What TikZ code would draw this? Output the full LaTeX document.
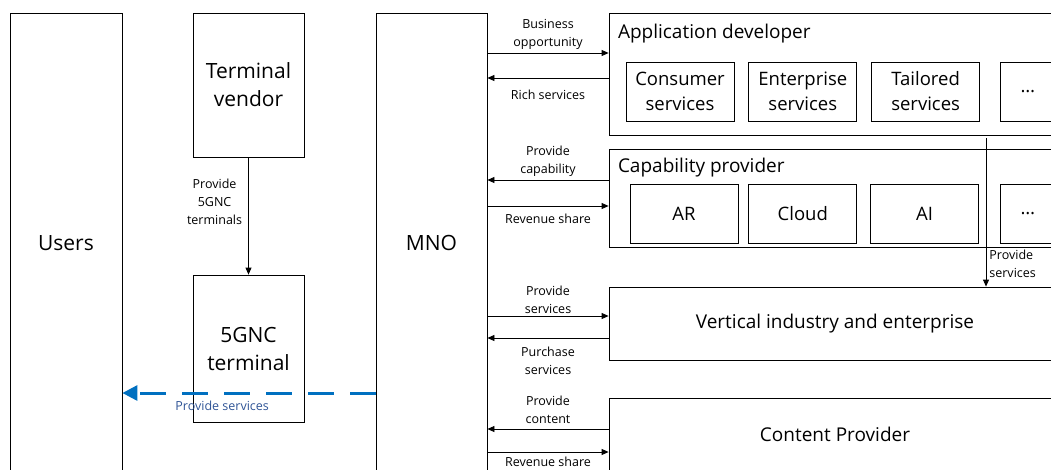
\documentclass[tikz,border=0pt]{standalone}
\usepackage{fontspec}
\setmainfont{Open Sans}
\usepackage{tikz}
\usetikzlibrary{calc}
\usetikzlibrary{positioning}
\usetikzlibrary{arrows.meta}
\definecolor{linkblue}{RGB}{0,112,192}
\definecolor{textblue}{RGB}{47,84,150}

\begin{document}
\begin{tikzpicture}[x=1pt, y=-1pt, >={Triangle[length=7pt,width=6pt]}]
\tikzstyle{block}=[draw, line width=0.8pt, inner sep=0pt, align=center, 
font=\fontsize{21}{28}\selectfont]
\tikzstyle{group}=[draw, line width=0.8pt, inner sep=0pt, minimum width=452pt, 
font=\fontsize{19}{24}\selectfont]
\tikzstyle{item}=[draw, line width=0.8pt, inner sep=0pt, align=center, minimum 
width=108pt, minimum height=59pt, font=\fontsize{18.5}{25}\selectfont]
\tikzstyle{flow}=[->, line width=0.8pt]
\tikzstyle{lbl}=[inner sep=0pt, align=center, font=\fontsize{12.5}{18}\selectfont]
\tikzstyle{dashflow}=[line width=3pt, linkblue, dash pattern=on 26pt off 16pt, 
-{Triangle[length=15pt,width=15pt]}]
	\useasboundingbox (0,0) rectangle (1051,469);
	\clip (0,0) rectangle (1051,469);

	% actors
	\node [block, minimum width = 112pt, minimum height = 460pt] (users) at (66,243) 
	{Users};
	\node [block, minimum width = 111pt, minimum height = 144pt] (vendor) at 
	(248.5,85) {Terminal\\vendor};
	\node [block, minimum width = 111pt, minimum height = 147pt] (term) at 
	(248.5,348.5) {5GNC\\terminal};
	\node [block, minimum width = 111pt, minimum height = 460pt] (mno) at 
	(431.5,243) {MNO};

	% partners
	\node [group, minimum height = 122pt] (appdev) at (835,74) {};
	\node [group, minimum height = 98pt] (capprov) at (835,198) {};
	\node [group, minimum height = 73pt] (vertical) at (835,323.5) {Vertical industry 
	and enterprise};
	\node [group, minimum height = 72pt] (content) at (835,434) {Content Provider};
	\node [group, draw=none, minimum width = 0pt, anchor = west] (appdevtitle) at 
	($(appdev.north west)+(9,21)$) {Application developer};
	\node [group, draw=none, minimum width = 0pt, anchor = west] (capprovtitle) at 
	($(capprov.north west)+(9,19)$) {Capability provider};

	% services
	\node [item] (consumer) at (680,91.5) {Consumer\\services};
	\node [item, right = 14pt of consumer] (enterprise) {Enterprise\\services};
	\node [item, right = 14pt of enterprise] (tailored) {Tailored\\services};
	\node [item, minimum width = 55pt, right = 20pt of tailored] (moreapp) 
	{\dots};

	% capabilities
	\node [item] (ar) at (684,213.5) {AR};
	\node [item, right = 10pt of ar] (cloud) {Cloud};
	\node [item, right = 13pt of cloud] (ai) {AI};
	\node [item, minimum width = 55pt, right = 21pt of ai] (morecap) {\dots};

	% terminals
	\draw [flow] (vendor) -- node [lbl, left = 6pt, pos = 0.38] 
	{Provide\\5GNC\\terminals} (term);
	\draw [dashflow] (mno.west |- 0,393) -- node [lbl, below = 6pt, pos = 0.606, 
	textblue] {Provide services} (users.east |- 0,393);

	% application developer
	\draw [flow] (mno.east |- 0,53) -- node [lbl, above = 3pt] 
	{Business\\opportunity} (appdev.west |- 0,53);
	\draw [flow] (appdev.west |- 0,78) -- node [lbl, below = 12pt] {Rich services} 
	(mno.east |- 0,78);

	% capability provider
	\draw [flow] (capprov.west |- 0,180) -- node [lbl, above = 3pt] 
	{Provide\\capability} (mno.east |- 0,180);
	\draw [flow] (mno.east |- 0,206) -- node [lbl, below = 8pt] {Revenue share} 
	(capprov.west |- 0,206);

	% vertical industry
	\draw [flow] (mno.east |- 0,316) -- node [lbl, above = 2pt] 
	{Provide\\services} (vertical.west |- 0,316);
	\draw [flow] (vertical.west |- 0,338) -- node [lbl, below = 9pt] 
	{Purchase\\services} (mno.east |- 0,338);

	% content provider
	\draw [flow] (content.west |- 0,429) -- node [lbl, above = 5pt] 
	{Provide\\content} (mno.east |- 0,429);
	\draw [flow] (mno.east |- 0,452) -- node [lbl, below = 5pt] {Revenue share} 
	(content.west |- 0,452);

	% developer to vertical
	\coordinate (devout) at (986,138);
	\draw [flow] (devout) -- node [lbl, pos = 1, anchor = south west, xshift = 3pt, 
	yshift = 9pt, align = left] {Provide\\services} (vertical.north -| devout);
\end{tikzpicture}
\end{document}
